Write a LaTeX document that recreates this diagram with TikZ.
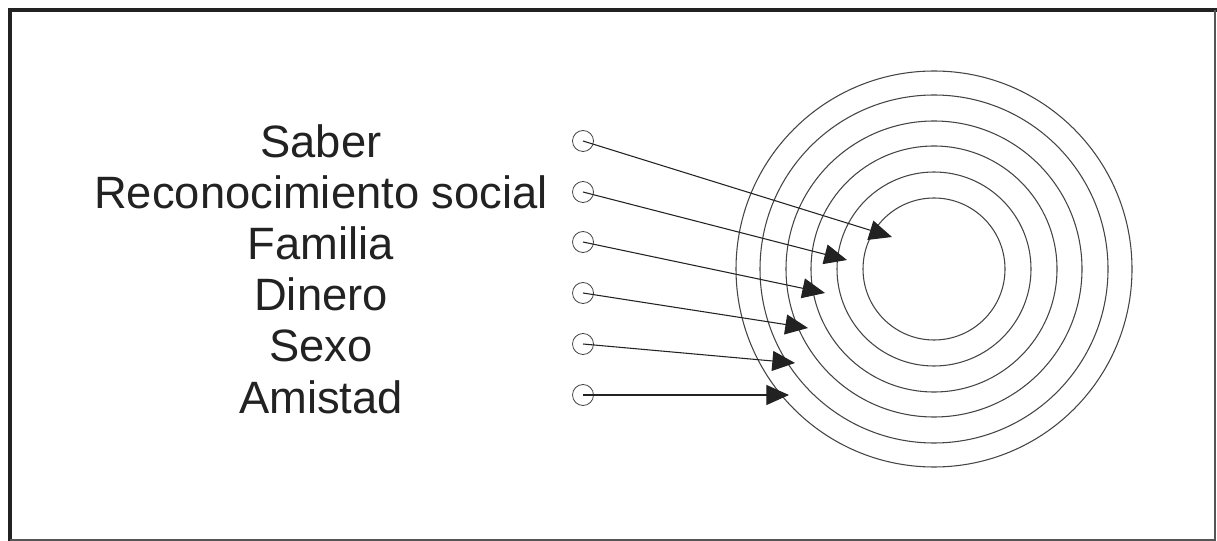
\documentclass[tikz,border=0pt]{standalone}
\usepackage{fontspec}
\setmainfont{Liberation Sans}
\usetikzlibrary{arrows.meta}
\definecolor{ink}{HTML}{222222}
\definecolor{ring}{HTML}{444444}
\definecolor{frameside}{HTML}{555555}
\begin{document}
\begin{tikzpicture}[x=0.75pt,y=-0.75pt]

      \useasboundingbox (0,0) rectangle (1217,541);

      % frame
      \draw[ink,line width=3pt] (10,541) -- (10,10) -- (1217,10);
      \draw[frameside,line width=1.2pt] (10,540) -- (1215,540) -- (1215,10);

      % rings
      \coordinate (c) at (934,269);
      \begin{scope}[ring,line width=0.8pt]
        \draw (c) circle (71);
        \draw (c) circle (97);
        \draw (c) circle (123);
        \draw (c) circle (148);
        \draw (c) circle (174);
        \draw (c) circle (198);
      \end{scope}

      \begin{scope}[every node/.style={circle,draw=ring,line width=0.6pt,
          minimum size=21*0.75pt,inner sep=0pt}]
        \node (s1) at (583,141) {};
        \node (s2) at (583,192) {};
        \node (s3) at (583,242) {};
        \node (s4) at (583,293) {};
        \node (s5) at (583,344) {};
        \node (s6) at (583,395) {};
      \end{scope}

      \begin{scope}[every node/.style={ink,anchor=base,inner sep=0pt,
          font=\fontsize{34}{40}\selectfont}]
        \node (l1) at (321,158) {Saber};
        \node (l2) at (321,209) {Reconocimiento social};
        \node (l3) at (321,260) {Familia};
        \node (l4) at (321,311) {Dinero};
        \node (l5) at (321,362) {Sexo};
        \node (l6) at (321,413) {Amistad};
      \end{scope}

      \coordinate (t1) at (892,237);
      \coordinate (t2) at (847,260);
      \coordinate (t3) at (825,293);
      \coordinate (t4) at (808,328);
      \coordinate (t5) at (795,363);
      \coordinate (t6) at (789,395);

      \begin{scope}[every path/.style={draw=ink,line width=0.8pt,
          -{Triangle[length=17pt,width=15pt,fill=ink]}}]
        \path (s1.center) -- (t1);
        \path (s2.center) -- (t2);
        \path (s3.center) -- (t3);
        \path (s4.center) -- (t4);
        \path (s5.center) -- (t5);
        \path (s6.center) -- (t6);
      \end{scope}

    \end{tikzpicture}
\end{document}
